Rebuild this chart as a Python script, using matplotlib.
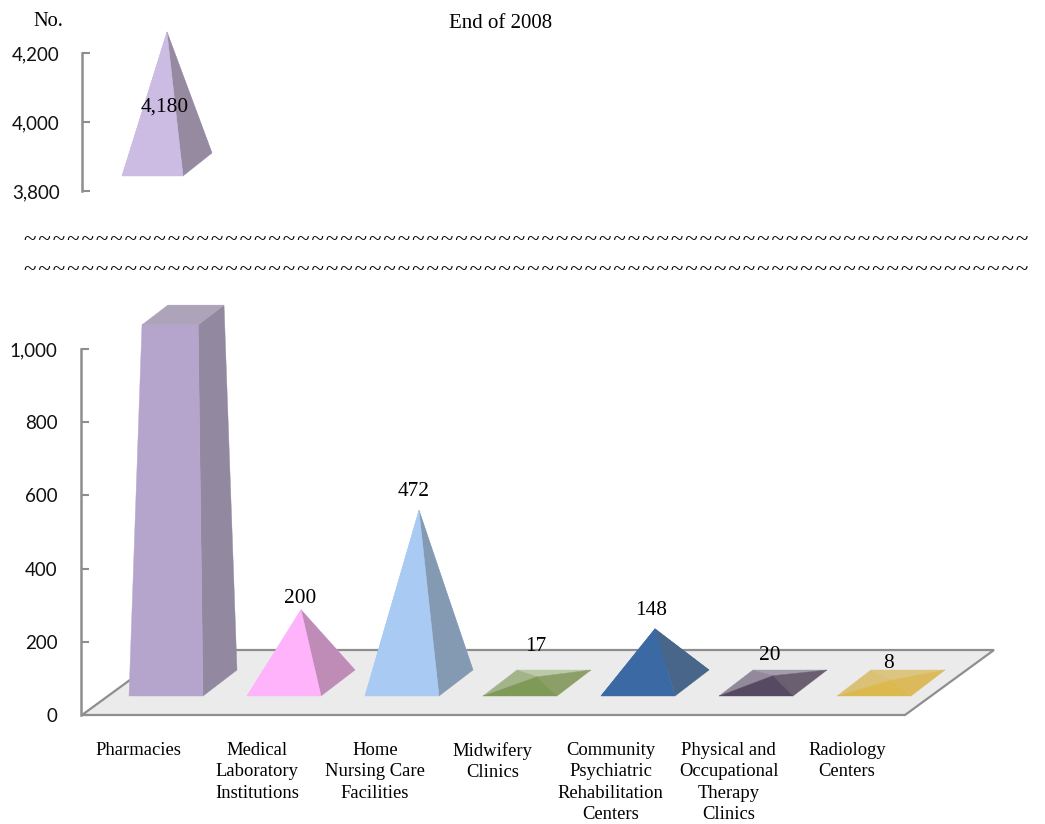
#!/usr/bin/env python3
"""
Facilities at end of 2008, pseudo-3D pyramids on a broken y axis
"""

import matplotlib.pyplot as plt
from matplotlib.patches import Polygon

categories = ['Pharmacies', 'Medical\nLaboratory\nInstitutions', 'Home\nNursing Care\nFacilities',
              'Midwifery\nClinics', 'Community\nPsychiatric\nRehabilitation\nCenters',
              'Physical and\nOccupational\nTherapy\nClinics', 'Radiology\nCenters']
values = [4180, 200, 472, 17, 148, 20, 8]
upper_ticks = [3800, 4000, 4200]
lower_ticks = [0, 200, 400, 600, 800, 1000]

# facet colours: front, right, left, back
facet_colors = [
    ('#b5a5cc', '#92889f', '#b5a5cc', '#ada4b9'),
    ('#ffb3fb', '#bf8cb8', '#ffb3fb', '#ffb3fb'),
    ('#a9caf2', '#8499b2', '#a9caf2', '#a9caf2'),
    ('#7f9a56', '#8d9f68', '#a3b38a', '#bcc9a8'),
    ('#3b69a3', '#486689', '#3b69a3', '#3b69a3'),
    ('#564a63', '#6a5e70', '#928a9a', '#a39cab'),
    ('#dcb94f', '#dcba5c', '#dbc175', '#dcc580'),
]
upper_colors = ('#ccbbe3', '#958a9f', '#ccbbe3', '#ccbbe3')

# label nudges in pixels, from the apex of each pyramid
label_dx = [-2, -1, -5, -1, -4, -3, -3]
label_dy = [-75, 11, 19, 30, 18, 20, 17]

GREY = '#8e8e8e'
W, H = 1045, 824
PX_X = 118.0             # pixels per category
PX_Y_LOW = 366 / 1000    # pixels per unit, lower panel
PX_Y_UP = 138 / 400      # pixels per unit, upper panel
HALF_W = 37 / PX_X
DEPTH_X = 34 / PX_X
DEPTH_Y = 26 / PX_Y_LOW
BASE_Y = 19 / PX_Y_LOW
CUT_FRONT = 1066         # front edge of the truncated bar in the lower panel

plt.rcParams['font.family'] = ['Liberation Serif', 'DejaVu Serif']


def pyramid(ax, c, half_w, dx, y0, dy, apex_y, colors, t=1.0):
    """Draw a four sided pyramid, cut at fraction t of its height"""
    fl = (c - half_w, y0)
    fr = (c + half_w, y0)
    br = (c + half_w + dx, y0 + dy)
    bl = (c - half_w + dx, y0 + dy)
    apex = (c + dx / 2, apex_y)
    front, right, left, back = colors
    if t >= 1.0:
        faces = [((bl, br, apex), back), ((fl, bl, apex), left),
                 ((fr, br, apex), right), ((fl, fr, apex), front)]
    else:
        def cut(p):
            return (p[0] + (apex[0] - p[0]) * t, p[1] + (apex[1] - p[1]) * t)
        faces = [((fr, br, cut(br), cut(fr)), right),
                 ((fl, fr, cut(fr), cut(fl)), front),
                 ((cut(fl), cut(fr), cut(br), cut(bl)), back)]
    for pts, col in faces:
        ax.add_patch(Polygon(pts, closed=True, facecolor=col, edgecolor=col,
                             linewidth=0.3, zorder=3, clip_on=False))
    return apex


def style_axis(ax, ticks, labels, pad, outward=0):
    for side in ['top', 'right', 'bottom']:
        ax.spines[side].set_visible(False)
    # set_position resets the ticks, so it goes before them
    ax.spines['left'].set_position(('outward', outward))
    ax.spines['left'].set_color(GREY)
    ax.spines['left'].set_linewidth(1.8)
    ax.patch.set_visible(False)
    ax.set_yticks(ticks, labels, family='Lato', fontsize=13.5, color='#111111')
    ax.tick_params(axis='y', direction='in', length=5.5, width=1.5, color=GREY, pad=pad)


def main():
    fig = plt.figure(figsize=(W / 100, H / 100), dpi=100)
    left, width = 82 / W, (994 - 82) / W
    xlim = ((82 - 166) / PX_X, (994 - 166) / PX_X)

    # upper panel
    ax_up = fig.add_axes([left, (H - 191) / H, width, 138 / H])
    ax_up.set_xlim(xlim)
    ax_up.set_ylim(upper_ticks[0], upper_ticks[-1])
    style_axis(ax_up, upper_ticks, [f'{v:,}' for v in upper_ticks], 16)
    ax_up.set_xticks([])
    apex = pyramid(ax_up, (152.5 - 166) / PX_X, 30.5 / PX_X, 29 / PX_X,
                   upper_ticks[0] + 15 / PX_Y_UP, 23 / PX_Y_UP, values[0] + 81, upper_colors)
    ax_up.annotate(f'{values[0]:,}', apex, xytext=(label_dx[0], label_dy[0]),
                   textcoords='offset pixels', ha='center', va='center', fontsize=15.4,
                   zorder=5, annotation_clip=False)

    # lower panel
    ax_low = fig.add_axes([left, (H - 715) / H, width, 366 / H])
    ax_low.set_xlim(xlim)
    ax_low.set_ylim(lower_ticks[0], lower_ticks[-1])
    style_axis(ax_low, lower_ticks, [f'{v:,}' for v in lower_ticks], 16.5, outward=1)

    floor_dx = 89 / PX_X
    floor_dy = 65 / PX_Y_LOW
    floor_right = xlim[1] - floor_dx
    ax_low.add_patch(Polygon([(xlim[0], 0), (floor_right, 0), (xlim[1], floor_dy),
                              (xlim[0] + floor_dx, floor_dy)], closed=True,
                             facecolor='#ebebeb', edgecolor=GREY, linewidth=1.6,
                             zorder=1, clip_on=False))

    positions = list(range(len(values)))

    # first bar runs past the break, so it is cut off
    apex_full = BASE_Y + DEPTH_Y / 2 + values[0]
    t = (CUT_FRONT - BASE_Y) / (apex_full - BASE_Y)
    pyramid(ax_low, positions[0], HALF_W, DEPTH_X, BASE_Y, DEPTH_Y, apex_full, facet_colors[0], t=t)

    for i in positions[1:]:
        apex_y = BASE_Y + DEPTH_Y / 2 + values[i]
        apex = pyramid(ax_low, i, HALF_W, DEPTH_X, BASE_Y, DEPTH_Y, apex_y, facet_colors[i])
        ax_low.annotate(f'{values[i]:,}', apex, xytext=(label_dx[i], label_dy[i]),
                        textcoords='offset pixels', ha='center', va='center',
                        fontsize=15.4, zorder=5, annotation_clip=False)

    ax_low.set_xticks([p - 0.23 for p in positions], categories, fontsize=13.4)
    ax_low.tick_params(axis='x', length=0, pad=19.5)
    for lab in ax_low.get_xticklabels():
        lab.set_linespacing(1.33)

    # header and axis break
    fig.text(48 / W, 1 - 22 / H, 'No.', ha='center', va='center', fontsize=14.7)
    fig.text(501 / W, 1 - 24 / H, 'End of 2008', ha='center', va='center', fontsize=15)
    for y in [240, 270]:
        fig.text(24 / W, 1 - y / H, '\u200a'.join(['~'] * 70), ha='left', va='center', fontsize=16.6)

    fig.savefig('out.png', dpi=100)


if __name__ == '__main__':
    main()
